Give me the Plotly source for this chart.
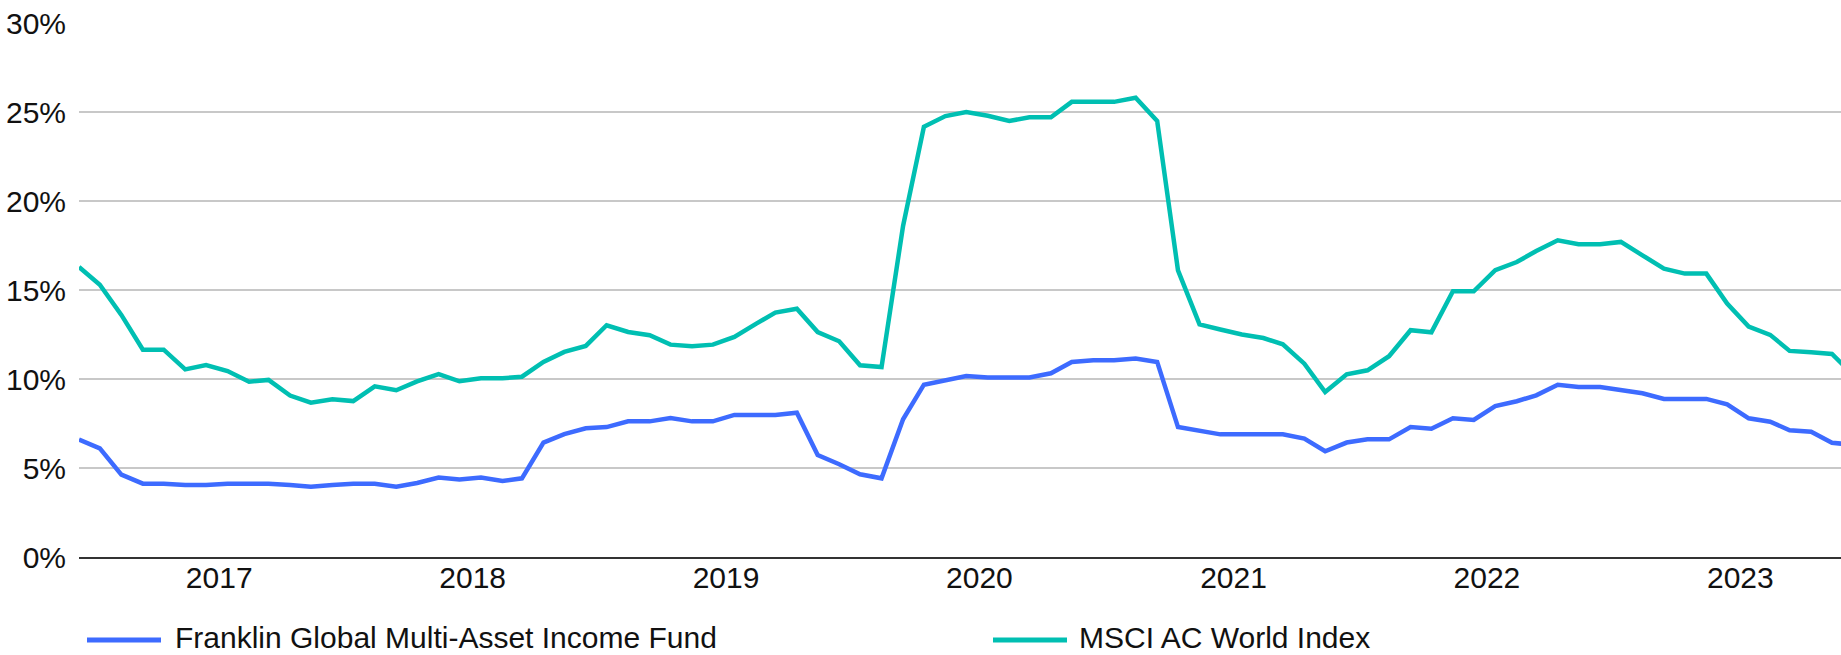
import pandas as pd
import plotly.graph_objects as go

# ---- data (monthly, Jun 2016 - Jun 2023) ----
start_month = "2016-06-01"
fund_name = "Franklin Global Multi-Asset Income Fund"
index_name = "MSCI AC World Index"

fund = [6.6, 6.1, 4.63, 4.12, 4.12, 4.05, 4.05, 4.12, 4.12, 4.12,
        4.05, 3.95, 4.05, 4.12, 4.12, 3.95, 4.16, 4.46, 4.35, 4.46,
        4.27, 4.42, 6.43, 6.9, 7.23, 7.3, 7.62, 7.62, 7.81, 7.62,
        7.62, 7.98, 7.98, 7.98, 8.11, 5.73, 5.21, 4.65, 4.42, 7.74,
        9.68, 9.96, 10.17, 10.08, 10.08, 10.08, 10.32, 10.96, 11.05, 11.05,
        11.15, 10.96, 7.3, 7.1, 6.89, 6.89, 6.89, 6.89, 6.65, 5.94,
        6.43, 6.61, 6.61, 7.3, 7.21, 7.79, 7.7, 8.48, 8.75, 9.08,
        9.68, 9.55, 9.55, 9.4, 9.2, 8.88, 8.88, 8.88, 8.58, 7.79,
        7.6, 7.12, 7.04, 6.42, 6.3]

msci = [16.29, 15.3, 13.6, 11.65, 11.65, 10.54, 10.78, 10.45, 9.85, 9.95,
        9.07, 8.67, 8.86, 8.76, 9.59, 9.37, 9.87, 10.28, 9.87, 10.04,
        10.04, 10.13, 10.96, 11.52, 11.86, 13.02, 12.64, 12.46, 11.93, 11.84,
        11.93, 12.36, 13.1, 13.73, 13.95, 12.64, 12.12, 10.77, 10.67, 18.6,
        24.17, 24.77, 25.0, 24.79, 24.5, 24.7, 24.7, 25.57, 25.57, 25.57,
        25.8, 24.5, 16.1, 13.07, 12.78, 12.5, 12.3, 11.95, 10.86, 9.27,
        10.26, 10.49, 11.28, 12.74, 12.62, 14.93, 14.93, 16.11, 16.57, 17.19,
        17.79, 17.57, 17.57, 17.7, 16.95, 16.2, 15.92, 15.92, 14.24, 12.95,
        12.48, 11.58, 11.5, 11.41, 10.2]

tick_years = ["2017", "2018", "2019", "2020", "2021", "2022", "2023"]
y_ticks = [0, 5, 10, 15, 20, 25, 30]

dates = pd.date_range(start_month, periods=len(fund), freq="MS")

FONT = "Liberation Sans Narrow, Arial Narrow, Liberation Sans, Arial, sans-serif"
FS = 30
BLUE = "#3D6BFF"
TEAL = "#00BFB2"

fig = go.Figure()
fig.add_trace(go.Scatter(x=dates, y=fund, mode="lines", name=fund_name,
                         line=dict(color=BLUE, width=4.5), showlegend=False))
fig.add_trace(go.Scatter(x=dates, y=msci, mode="lines", name=index_name,
                         line=dict(color=TEAL, width=4.5), showlegend=False))

tickvals = [pd.Timestamp(f"{y}-01-01") - pd.Timedelta(days=12) for y in tick_years]

W, H = 1841, 655
ML, MR, MT, MB = 79, 0, 23, 98
pw = W - ML - MR
ph = H - MT - MB


def px_x(x):
    return (x - ML) / pw


def px_y(y):
    return (H - MB - y) / ph


fig.update_layout(
    width=W, height=H,
    margin=dict(l=ML, r=MR, t=MT, b=MB, pad=0),
    paper_bgcolor="white", plot_bgcolor="white",
    font=dict(family=FONT, size=FS, color="#111111"),
    xaxis=dict(
        type="date",
        range=[dates[0], pd.Timestamp("2023-05-14")],
        tickvals=tickvals, ticktext=tick_years,
        showgrid=False, zeroline=False,
        showline=True, linecolor="#333333", linewidth=2,
        ticks="", automargin=False, ticklabelstandoff=-7,
    ),
    yaxis=dict(
        range=[0, 30],
        tickvals=y_ticks, ticktext=[f"{v}%" for v in y_ticks],
        showgrid=True, gridcolor="#c8c8c8", gridwidth=1.5,
        zeroline=False, showline=False, ticks="", automargin=False,
        ticklabelstandoff=12,
    ),
)

# legend (drawn manually to match long line samples)
legend_items = [(fund_name, BLUE, 87, 161, 174), (index_name, TEAL, 993, 1067, 1078)]
ly = 640
for name, color, x0, x1, tx in legend_items:
    fig.add_shape(type="line", xref="paper", yref="paper",
                  x0=px_x(x0), x1=px_x(x1), y0=px_y(ly), y1=px_y(ly),
                  line=dict(color=color, width=5))
    fig.add_annotation(text=name, xref="paper", yref="paper",
                       x=px_x(tx), y=px_y(ly - 3), xanchor="left", yanchor="middle",
                       showarrow=False, borderpad=0,
                       font=dict(family=FONT, size=FS, color="#111111"))

fig.write_html(
    "out.html",
    config={"displayModeBar": False},
    post_script="document.body.style.margin='0';document.body.style.overflow='hidden';",
)
